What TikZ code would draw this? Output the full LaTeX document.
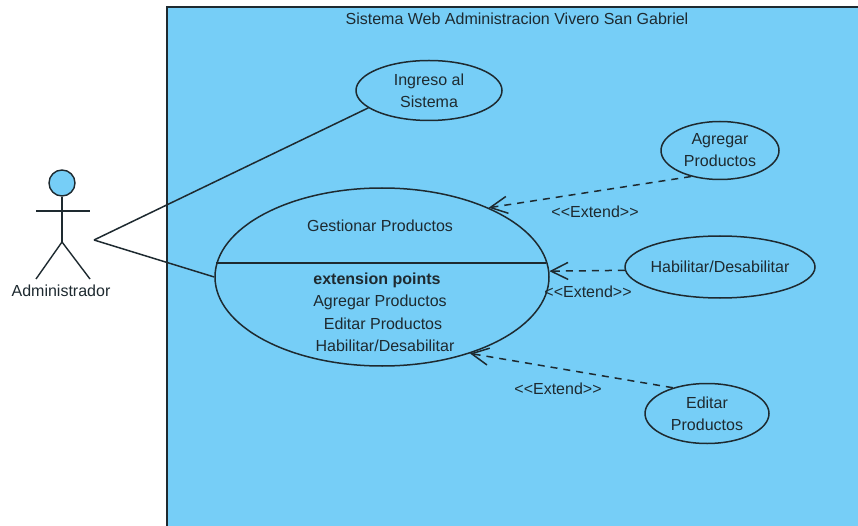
\documentclass[tikz,border=0pt]{standalone}
\usepackage{fontspec}
\setmainfont{Liberation Sans}
\usetikzlibrary{shapes.geometric,arrows.meta}
\definecolor{sysblue}{HTML}{76CEF7}
\definecolor{inkc}{HTML}{1E2A30}
\tikzset{
  uc/.style={draw=inkc,ellipse,line width=1.5pt,fill=sysblue,inner sep=0pt,align=center,font=\fontsize{16}{22}\selectfont,text=inkc},
  lbl/.style={inner sep=0pt,font=\fontsize{16}{18}\selectfont,text=inkc},
  assoc/.style={draw=inkc,line width=1.5pt},
  ext/.style={draw=inkc,line width=1.5pt,dash pattern=on 7pt off 6pt,-{Straight Barb[length=17pt,width=17pt,line width=1.5pt]}},
  stick/.style={draw=inkc,line width=1.4pt}
}
\begin{document}
\begin{tikzpicture}[x=1pt,y=-1pt]
\useasboundingbox (0,0) rectangle (858,526);
\fill[white] (0,0) rectangle (858,526);
\fill[sysblue] (167,7) rectangle (858,526);
\draw[draw=inkc,line width=1.5pt] (167,526) -- (167,7) -- (858,7);
\node[lbl] (title) at (517,18.5) {Sistema Web Administracion Vivero San Gabriel};

\node[uc,minimum width=146pt,minimum height=60pt] (ingreso) at (429,90.5) {Ingreso al\\Sistema};
\node[uc,minimum width=118pt,minimum height=58pt] (agregar) at (720,150.5) {Agregar\\Productos};
\node[uc,minimum width=190pt,minimum height=62pt] (habilitar) at (720,267) {\makebox[0pt]{Habilitar/Desabilitar}};
\node[uc,minimum width=124pt,minimum height=60pt] (editar) at (707,413.5) {Editar\\Productos};
\node[uc,minimum width=334pt,minimum height=178pt] (gestionar) at (382,277) {};
\draw[assoc] (216,263) coordinate (sepl) -- (546,263) coordinate (sepr);

\node[lbl] (gname) at (380,226) {Gestionar Productos};
\node[lbl,font=\fontsize{16}{18}\selectfont\bfseries] (ep) at (377,280) {extension points};
\node[lbl] (ep1) at (380,302) {Agregar Productos};
\node[lbl] (ep2) at (383,324) {Editar Productos};
\node[lbl] (ep3) at (385,346) {Habilitar/Desabilitar};

% actor
\node[circle,draw=inkc,line width=1.4pt,fill=sysblue,minimum size=26pt,inner sep=0pt] (head) at (62,183) {};
\coordinate (neck) at (62,242);
\coordinate (arml) at (36,211);
\coordinate (armr) at (90,211);
\coordinate (footl) at (36,279);
\coordinate (footr) at (90,279);
\draw[stick] (head.south) -- (neck);
\draw[stick] (arml) -- (armr);
\draw[stick] (footl) -- (neck) -- (footr);
\node[lbl] (actorname) at (61,290.5) {Administrador};
\coordinate (actor) at (94,240);

\draw[assoc] (actor) -- (ingreso.196);
\draw[assoc] (actor) -- (gestionar.180);

\draw[ext] (agregar.222) -- (gestionar.33);
\draw[ext] (habilitar.182) -- (gestionar.2);
\draw[ext] (editar.143) -- (gestionar.-41);

\node[lbl] (e1) at (595,212) {<{}<Extend>{}>};
\node[lbl] (e2) at (588,292) {<{}<Extend>{}>};
\node[lbl] (e3) at (558,389) {<{}<Extend>{}>};
\end{tikzpicture}
\end{document}
